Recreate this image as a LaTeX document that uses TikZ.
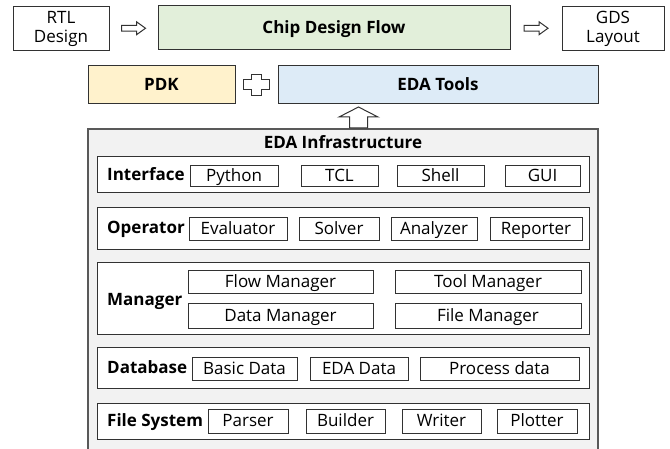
\documentclass[tikz,border=0pt]{standalone}
\usepackage{fontspec}
\setmainfont{Open Sans}
\usetikzlibrary{calc}
\definecolor{FlowClr}{RGB}{226,239,218}
\definecolor{PdkClr}{RGB}{255,242,204}
\definecolor{ToolClr}{RGB}{221,235,247}
\definecolor{InfraClr}{RGB}{242,242,242}
\definecolor{LineClr}{RGB}{50,50,50}

\tikzset{
  rarrow/.pic={\draw[hollow] (-12,-2.8) -- (3,-2.8) -- (3,-6.5) -- (12,0) -- (3,6.5) -- (3,2.8) -- (-12,2.8) -- cycle;},
  uarrow/.pic={\draw[hollow] (0,-10.5) -- (19.5,-0.5) -- (9,-0.5) -- (9,10.5) -- (-9,10.5) -- (-9,-0.5) -- (-19.5,-0.5) -- cycle;},
  plus/.pic={\draw[hollow] (-5,-10.5) -- (5,-10.5) -- (5,-5) -- (13,-5) -- (13,5) -- (5,5) -- (5,10.5) -- (-5,10.5) -- (-5,5) -- (-13,5) -- (-13,-5) -- (-5,-5) -- cycle;}
}

\begin{document}
\begin{tikzpicture}[x=1pt,y=-1pt,
  font=\fontsize{17}{19}\selectfont,
  box/.style={draw=LineClr,line width=1pt,inner sep=0pt,align=center,text height=11.5pt,text depth=1pt},
  cell/.style 2 args={box,fill=white,minimum width=#1pt,minimum height=#2pt},
  row/.style={box,fill=white,minimum width=492pt,minimum height=#1pt},
  tag/.style={font=\fontsize{17}{19}\selectfont\bfseries,anchor=west,inner sep=0pt,text height=11.5pt,text depth=1pt},
  hollow/.style={draw=LineClr,line width=1pt,fill=white,line join=miter}]

\useasboundingbox (0,0) rectangle (670,449);

% flow
\node[cell={96}{44},text height={},text depth={}] (rtl) at (61,28.5) {RTL\\Design};
\node[cell={352}{44},fill=FlowClr,font=\fontsize{17}{19}\selectfont\bfseries] (flow) at (334,28) {Chip Design Flow};
\node[cell={102}{44},text height={},text depth={}] (gds) at (613,28.5) {GDS\\Layout};
\pic at ($(rtl.east)!.5!(flow.west)$) {rarrow};
\pic at ($(flow.east)!.5!(gds.west)$) {rarrow};

% pdk + tools
\node[cell={147}{38},fill=PdkClr,font=\fontsize{17}{19}\selectfont\bfseries] (pdk) at (161.5,85) {PDK};
\node[cell={320}{38},fill=ToolClr,font=\fontsize{17}{19}\selectfont\bfseries] (tools) at (438,85) {EDA Tools};
\pic at ($(pdk.east)!.5!(tools.west)$) {plus};

% infrastructure
\node[box,fill=InfraClr,draw=black!65,line width=1.5pt,minimum width=510pt,minimum height=323pt] (infra) at (343,290.5) {};
\pic at (358.5,117.5) {uarrow};
\node[tag,anchor=center] (title) at (343,143) {EDA Infrastructure};

\node[row=36] (iface) at (343,175) {};
\node[tag] (ifacelbl) at (107,175) {Interface};
\node[cell={88}{21}] (py) at (234,176.5) {Python};
\node[cell={77}{21}] (tcl) at (339.5,176.5) {TCL};
\node[cell={87}{21}] (sh) at (440.5,176.5) {Shell};
\node[cell={75}{21}] (gui) at (542.5,176.5) {GUI};

\node[row=42] (oper) at (343,228.5) {};
\node[tag] (operlbl) at (107,228.5) {Operator};
\node[cell={98}{23}] (eval) at (238,229.5) {Evaluator};
\node[cell={80}{23}] (solv) at (339,229.5) {Solver};
\node[cell={86}{23}] (anal) at (434,229.5) {Analyzer};
\node[cell={92}{23}] (rep) at (536,229.5) {Reporter};

\node[row=72] (mgr) at (343,299) {};
\node[tag] (mgrlbl) at (107,300) {Manager};
\node[cell={185}{23}] (flowm) at (280.5,282.5) {Flow Manager};
\node[cell={186}{23}] (toolm) at (488,282.5) {Tool Manager};
\node[cell={185}{25}] (datam) at (280.5,316.5) {Data Manager};
\node[cell={186}{25}] (filem) at (488,316.5) {File Manager};

\node[row=40] (db) at (343,368) {};
\node[tag] (dblbl) at (107,368) {Database};
\node[cell={105}{22}] (basic) at (244.5,369) {Basic Data};
\node[cell={98}{22}] (edad) at (359,369) {EDA Data};
\node[cell={159}{22}] (proc) at (499.5,369) {Process data};

\node[row=36] (fs) at (343,421) {};
\node[tag] (fslbl) at (107,421) {File System};
\node[cell={80}{24}] (pars) at (248,421) {Parser};
\node[cell={79}{24}] (build) at (345.5,421) {Builder};
\node[cell={79}{24}] (writ) at (441.5,421) {Writer};
\node[cell={80}{24}] (plot) at (537,421) {Plotter};

\end{tikzpicture}
\end{document}
